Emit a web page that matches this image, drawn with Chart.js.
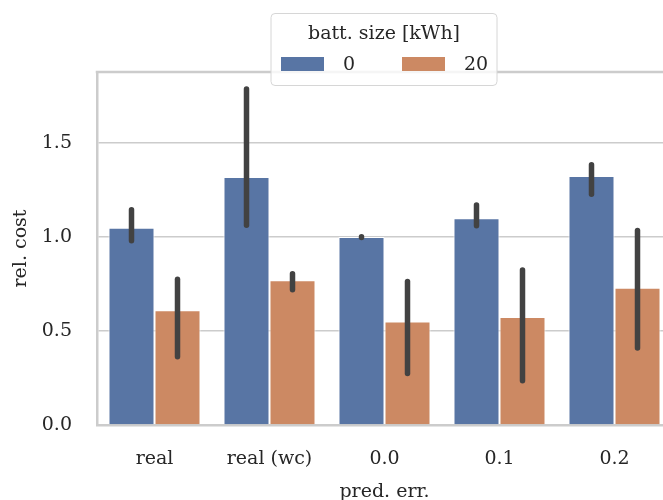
<!DOCTYPE html>
<html><head><meta charset="utf-8">
<script src="https://cdn.jsdelivr.net/npm/chart.js@4"></script>
<style>html,body{margin:0;padding:0;overflow:hidden;background:#fff}#wrap{width:672px;height:500px}</style>
</head><body><div id="wrap"><canvas id="c" width="672" height="500"></canvas></div>
<script>
const categories = ["real", "real (wc)", "0.0", "0.1", "0.2"];
const seriesLabels = ["0", "20"];
const cost0 = [1.05, 1.32, 1.0, 1.10, 1.325];
const cost20 = [0.61, 0.77, 0.55, 0.575, 0.73];
const ciLow0 = [0.98, 1.063, 0.998, 1.06, 1.228];
const ciHigh0 = [1.145, 1.788, 1.002, 1.17, 1.385];
const ciLow20 = [0.363, 0.72, 0.274, 0.235, 0.41];
const ciHigh20 = [0.775, 0.805, 0.763, 0.825, 1.035];
const yTicks = [0, 0.5, 1.0, 1.5];

const FONT = "'DejaVu Serif', serif";
const TXT = '#262626';
const colors = ['#5875a4', '#cc8963'];
const errs = [[ciLow0, ciHigh0], [ciLow20, ciHigh20]];

const errPlugin = {
  id: 'errbars',
  afterDatasetsDraw(chart) {
    const ctx = chart.ctx, y = chart.scales.y;
    ctx.save();
    ctx.strokeStyle = '#424242';
    ctx.lineWidth = 5.5;
    ctx.lineCap = 'round';
    chart.data.datasets.forEach((ds, i) => {
      chart.getDatasetMeta(i).data.forEach((bar, j) => {
        ctx.beginPath();
        ctx.moveTo(bar.x, y.getPixelForValue(errs[i][0][j]));
        ctx.lineTo(bar.x, y.getPixelForValue(errs[i][1][j]));
        ctx.stroke();
      });
    });
    ctx.restore();
  }
};

const frameLegendPlugin = {
  id: 'frameLegend',
  afterDraw(chart) {
    const ctx = chart.ctx, a = chart.chartArea;
    ctx.save();
    // top spine
    ctx.strokeStyle = '#cccccc';
    ctx.lineWidth = 2.5;
    ctx.beginPath();
    ctx.moveTo(a.left - 1.25, a.top);
    ctx.lineTo(a.right, a.top);
    ctx.stroke();
    // legend box
    const bx = 271, by = 13.5, bw = 226, bh = 72, r = 4;
    ctx.beginPath();
    ctx.roundRect(bx, by, bw, bh, r);
    ctx.fillStyle = 'rgba(255,255,255,0.8)';
    ctx.fill();
    ctx.strokeStyle = '#d6d6d6';
    ctx.lineWidth = 1;
    ctx.stroke();
    ctx.fillStyle = TXT;
    ctx.font = "19px " + FONT;
    ctx.textAlign = 'center';
    ctx.textBaseline = 'middle';
    ctx.fillText('batt. size [kWh]', bx + bw / 2, 34);
    const px = [281, 402], lx = [343, 464];
    chart.data.datasets.forEach((ds, i) => {
      ctx.fillStyle = ds.backgroundColor;
      ctx.fillRect(px[i], 57, 43, 14);
      ctx.fillStyle = TXT;
      ctx.textAlign = 'left';
      ctx.fillText(ds.label, lx[i], 65);
    });
    ctx.restore();
  }
};

new Chart(document.getElementById('c'), {
  type: 'bar',
  data: {
    labels: categories,
    datasets: [
      { label: seriesLabels[0], data: cost0, backgroundColor: colors[0], borderColor: '#ffffff', borderWidth: 1, categoryPercentage: 0.8, barPercentage: 1.0 },
      { label: seriesLabels[1], data: cost20, backgroundColor: colors[1], borderColor: '#ffffff', borderWidth: 1, categoryPercentage: 0.8, barPercentage: 1.0 }
    ]
  },
  options: {
    responsive: false,
    animation: false,
    devicePixelRatio: 1,
    layout: { padding: { top: 72, left: 0, right: 0, bottom: 0 } },
    plugins: { legend: { display: false }, tooltip: { enabled: false } },
    scales: {
      x: {
        grid: { display: false },
        border: { display: true, color: '#cccccc', width: 2.5 },
        ticks: { font: { family: FONT, size: 19 }, color: TXT, padding: 15 },
        title: { display: true, text: 'pred. err.', font: { family: FONT, size: 19, lineHeight: 1.2 }, color: TXT, padding: { top: 0, bottom: -3 } },
        afterFit(s) { s.height = 75; }
      },
      y: {
        min: 0, max: 1.878,
        afterBuildTicks(s) { s.ticks = yTicks.map(v => ({ value: v })); },
        grid: { color: '#cccccc', lineWidth: 1.5, drawTicks: false },
        border: { display: true, color: '#cccccc', width: 2.5 },
        ticks: { font: { family: FONT, size: 19 }, color: TXT, padding: 25, callback: v => Number(v).toFixed(1) },
        title: { display: true, text: 'rel. cost', font: { family: FONT, size: 19, lineHeight: 1.2 }, color: TXT, padding: { top: 10, bottom: 0 } },
        afterFit(s) { s.width = 97; }
      }
    }
  },
  plugins: [errPlugin, frameLegendPlugin]
});
</script>
</body></html>
